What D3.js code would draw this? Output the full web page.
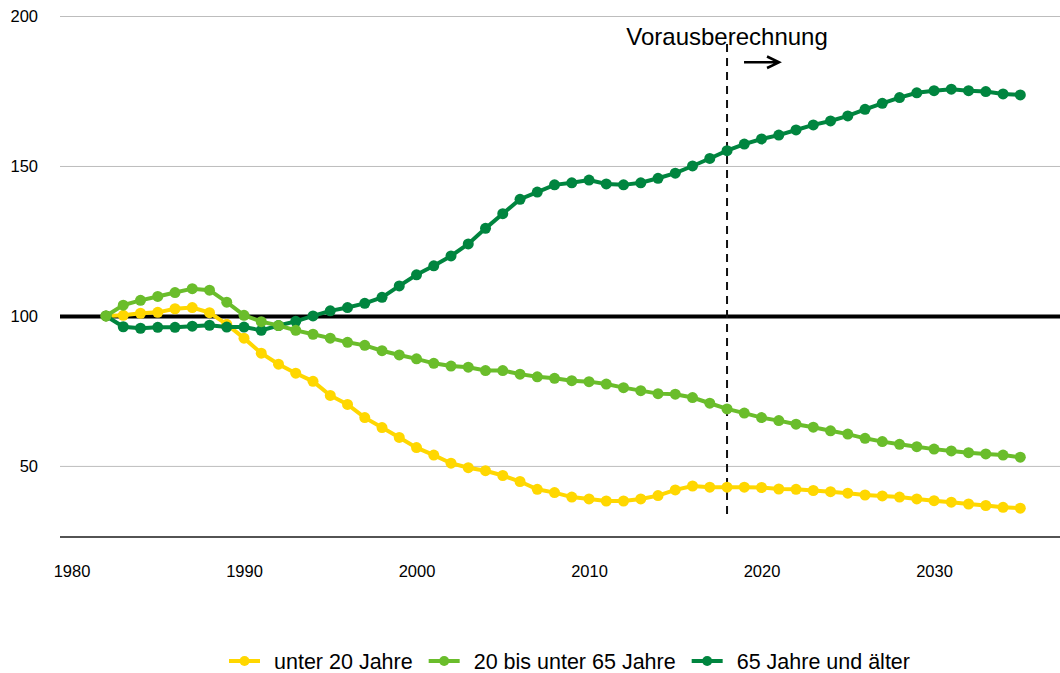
<!DOCTYPE html>
<html>
<head>
<meta charset="utf-8">
<script src="https://cdn.jsdelivr.net/npm/d3@7"></script>
<style>
  body { margin: 0; background: #fff; }
  svg { font-family: "Liberation Sans", Arial, sans-serif; }
</style>
</head>
<body>
<div id="chart"></div>
<script>
var width = 1060, height = 673;

var years = [1982, 1983, 1984, 1985, 1986, 1987, 1988, 1989, 1990, 1991,
  1992, 1993, 1994, 1995, 1996, 1997, 1998, 1999, 2000, 2001,
  2002, 2003, 2004, 2005, 2006, 2007, 2008, 2009, 2010, 2011,
  2012, 2013, 2014, 2015, 2016, 2017, 2018, 2019, 2020, 2021,
  2022, 2023, 2024, 2025, 2026, 2027, 2028, 2029, 2030, 2031,
  2032, 2033, 2034, 2035];

var under20 = [100, 100.2, 100.9, 101.2, 102.4, 102.8, 101.1, 97.2, 92.6, 87.6,
  83.9, 80.9, 78.2, 73.5, 70.5, 66.1, 62.8, 59.5, 56.1, 53.6,
  50.9, 49.4, 48.4, 46.8, 44.8, 42.2, 41.1, 39.6, 39.0, 38.3,
  38.3, 39.0, 40.1, 42.0, 43.3, 42.9, 42.9, 42.9, 42.8, 42.3,
  42.2, 41.8, 41.4, 40.9, 40.3, 40.0, 39.6, 39.0, 38.4, 37.9,
  37.3, 36.8, 36.2, 35.9];

var from20to65 = [100, 103.6, 105.2, 106.5, 107.8, 109.1, 108.6, 104.6, 100.2, 98.1,
  96.8, 95.2, 93.9, 92.6, 91.2, 90.2, 88.4, 87.0, 85.7, 84.2,
  83.3, 82.9, 81.8, 81.8, 80.6, 79.7, 79.2, 78.4, 78.1, 77.3,
  76.1, 75.1, 74.1, 73.9, 72.8, 70.9, 69.0, 67.6, 66.1, 65.1,
  63.9, 62.9, 61.7, 60.6, 59.2, 58.1, 57.2, 56.4, 55.6, 55.0,
  54.4, 54.0, 53.6, 52.9];

var over65 = [100, 96.4, 95.9, 96.2, 96.2, 96.6, 96.9, 96.3, 96.3, 95.2,
  96.8, 98.2, 100.0, 101.7, 102.8, 104.2, 106.2, 110.0, 113.7, 116.7,
  120.0, 124.0, 129.2, 134.1, 138.9, 141.3, 143.7, 144.4, 145.3, 144.0,
  143.7, 144.4, 145.9, 147.6, 150.0, 152.5, 155.1, 157.3, 159.0, 160.3,
  162.0, 163.7, 165.0, 166.7, 168.9, 170.9, 172.8, 174.4, 175.1, 175.6,
  175.1, 174.8, 174.0, 173.7];

var seriesNames = ["unter 20 Jahre", "20 bis unter 65 Jahre", "65 Jahre und älter"];
var seriesColors = ["#ffd700", "#6abd2b", "#00853f"];
var yTicks = [50, 100, 150, 200];
var xTicks = [1980, 1990, 2000, 2010, 2020, 2030];
var baseValue = 100;
var projectionYear = 2018;
var projectionLabel = "Vorausberechnung";

var series = [
  { name: seriesNames[0], color: seriesColors[0], values: under20 },
  { name: seriesNames[1], color: seriesColors[1], values: from20to65 },
  { name: seriesNames[2], color: seriesColors[2], values: over65 }
];
// drawing order: yellow, dark green, light green on top
var drawOrder = [series[0], series[2], series[1]];

var svg = d3.select("#chart").append("svg")
  .attr("width", width)
  .attr("height", height);

var x = d3.scaleLinear().domain([1980, 2035]).range([71.5, 1020.3]);
var y = d3.scaleLinear().domain([26.3, 200]).range([537, 16]);

var plotLeft = 60, plotRight = 1060;

// y axis with grid
var yAxis = svg.append("g")
  .attr("transform", "translate(" + plotLeft + ",0)")
  .call(d3.axisLeft(y).tickValues(yTicks).tickSizeInner(-(plotRight - plotLeft)).tickSizeOuter(0).tickPadding(22));
yAxis.select(".domain").remove();
yAxis.attr("font-size", 16.5).attr("font-family", "Liberation Sans, Arial, sans-serif");
yAxis.selectAll(".tick line").attr("stroke", "#bdbdbd").attr("stroke-width", 1);
yAxis.selectAll(".tick text").attr("fill", "#000");
yAxis.selectAll(".tick").filter(function(d) { return d === baseValue; }).select("line")
  .attr("stroke", "#000").attr("stroke-width", 4);

// x axis
var xAxis = svg.append("g")
  .attr("transform", "translate(0," + y(26.3) + ")")
  .call(d3.axisBottom(x).tickValues(xTicks).tickFormat(d3.format("d")).tickSize(0).tickPadding(28));
xAxis.select(".domain").remove();
xAxis.attr("font-size", 16.5).attr("font-family", "Liberation Sans, Arial, sans-serif");
xAxis.append("line")
  .attr("x1", plotLeft).attr("x2", plotRight)
  .attr("stroke", "#1a1a1a").attr("stroke-width", 1.5);
xAxis.selectAll(".tick text").attr("fill", "#000");

// projection marker
svg.append("line")
  .attr("x1", x(projectionYear)).attr("x2", x(projectionYear))
  .attr("y1", 44).attr("y2", 515)
  .attr("stroke", "#111").attr("stroke-width", 2)
  .attr("stroke-dasharray", "8,6");

svg.append("text")
  .attr("x", x(projectionYear))
  .attr("y", 45)
  .attr("text-anchor", "middle")
  .attr("font-size", 24)
  .attr("fill", "#000")
  .text(projectionLabel);

var ax = x(projectionYear) + 17;
svg.append("path")
  .attr("d", "M" + ax + ",62.3H" + (ax + 35) + "M" + (ax + 23) + ",56.5L" + (ax + 35) + ",62.3L" + (ax + 23) + ",68")
  .attr("fill", "none").attr("stroke", "#000").attr("stroke-width", 2.5);

// series
var line = d3.line()
  .x(function(d, i) { return x(years[i]); })
  .y(function(d) { return y(d); });

drawOrder.forEach(function(s) {
  var g = svg.append("g");
  g.append("path")
    .attr("d", line(s.values))
    .attr("fill", "none")
    .attr("stroke", s.color)
    .attr("stroke-width", 4);
  g.selectAll("circle")
    .data(s.values)
    .enter()
    .append("circle")
    .attr("cx", function(d, i) { return x(years[i]); })
    .attr("cy", function(d) { return y(d); })
    .attr("r", 5.5)
    .attr("fill", s.color);
});

// legend
var legend = svg.append("g");
var legendY = 661;
var items = legend.selectAll("g").data(series).enter().append("g");
items.append("line")
  .attr("x1", 0).attr("x2", 31)
  .attr("y1", legendY).attr("y2", legendY)
  .attr("stroke", function(d) { return d.color; })
  .attr("stroke-width", 4);
items.append("circle")
  .attr("cx", 15.5).attr("cy", legendY).attr("r", 5)
  .attr("fill", function(d) { return d.color; });
items.append("text")
  .attr("x", 45).attr("y", legendY + 7.5)
  .attr("font-size", 21.5)
  .attr("fill", "#000")
  .text(function(d) { return d.name; });

var offset = 0;
var offsets = [];
items.each(function() {
  offsets.push(offset);
  var w = d3.select(this).select("text").node().getComputedTextLength();
  offset += 45 + w + 16;
});
var total = offset - 16;
var startX = 569.5 - total / 2;
items.attr("transform", function(d, i) { return "translate(" + (startX + offsets[i]) + ",0)"; });
</script>
</body>
</html>
